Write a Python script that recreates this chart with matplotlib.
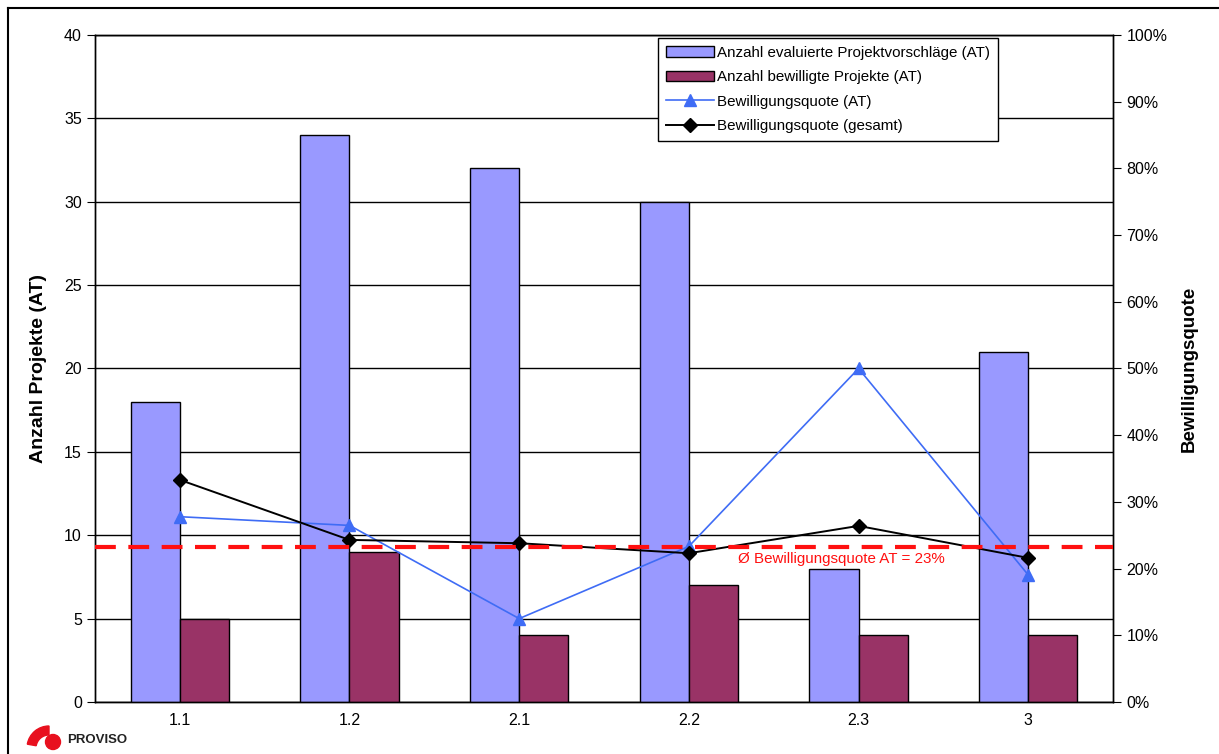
import numpy as np
import matplotlib.pyplot as plt
from matplotlib.patches import Ellipse, Wedge
from matplotlib.lines import Line2D

plt.rcParams['font.family'] = ['Liberation Sans', 'DejaVu Sans']

# data
categories = ["1.1", "1.2", "2.1", "2.2", "2.3", "3"]
evaluated = [18, 34, 32, 30, 8, 21]
approved = [5, 9, 4, 7, 4, 4]
quote_at = [a / e for a, e in zip(approved, evaluated)]
quote_total = [0.333, 0.243, 0.238, 0.223, 0.264, 0.216]
mean_quote_at = 0.2325

fig = plt.figure(figsize=(12.19, 7.54), dpi=100)
ax = fig.add_axes([0.0779, 0.069, 0.8352, 0.8846])
ax2 = ax.twinx()

x = np.arange(len(categories))
w = 0.29
ax.bar(x - w / 2, evaluated, w, color="#9999ff", edgecolor="black", lw=1,
       label="Anzahl evaluierte Projektvorschläge (AT)", zorder=3)
ax.bar(x + w / 2, approved, w, color="#993366", edgecolor="black", lw=1,
       label="Anzahl bewilligte Projekte (AT)", zorder=3)

ax.set_xlim(-0.5, len(categories) - 0.5)
ax.set_ylim(0, 40)
ax.set_yticks(range(0, 41, 5))
ax.grid(axis="y", color="black", lw=1, zorder=0)
ax.set_axisbelow(True)
ax.set_xticks(x)
ax.set_xticklabels(categories, fontsize=11.5)
ax.tick_params(axis="x", length=0, pad=8)
ax.tick_params(axis="y", labelsize=11.5, length=6, direction="out")
ax.set_ylabel("Anzahl Projekte (AT)", fontsize=14, fontweight="bold", labelpad=12)

ax2.plot(x, quote_at, color="#3f6cf5", lw=1.2, marker="^", ms=8,
         label="Bewilligungsquote (AT)", zorder=4)
ax2.plot(x, quote_total, color="black", lw=1.4, marker="D", ms=7,
         label="Bewilligungsquote (gesamt)", zorder=5)
ax2.axhline(mean_quote_at, color="#ff1010", lw=3, ls=(0, (5, 3)), zorder=6)
ax2.text(x[3] + 0.9, mean_quote_at - 0.008, "Ø Bewilligungsquote AT = 23%",
         color="#ff1010", fontsize=10.9, ha="center", va="top")
ax2.set_ylim(0, 1)
ax2.set_yticks(np.arange(0, 1.01, 0.1))
ax2.set_yticklabels([f"{int(round(v * 100))}%" for v in np.arange(0, 1.01, 0.1)])
ax2.tick_params(axis="y", labelsize=11.5, length=6, direction="out")
ax2.set_ylabel("Bewilligungsquote", fontsize=13.5, fontweight="bold", labelpad=10)

for a in (ax, ax2):
    for s in a.spines.values():
        s.set_linewidth(1)
        s.set_color("black")

h1, l1 = ax.get_legend_handles_labels()
h2, l2 = ax2.get_legend_handles_labels()
leg = ax.legend(h1 + h2, l1 + l2, loc="upper left",
                bbox_to_anchor=(658 / 1219, 1 - 38 / 754),
                bbox_transform=fig.transFigure, fontsize=10.9,
                frameon=True, fancybox=False, framealpha=1,
                edgecolor="black", borderpad=0.5, labelspacing=0.7,
                handlelength=3.2, handletextpad=0.2, borderaxespad=0)
leg.get_frame().set_linewidth(1)
leg.set_zorder(10)

# figure border (top and left visible)
fig.add_artist(Line2D([8 / 1219, 8 / 1219], [0, 1 - 8 / 754],
                      transform=fig.transFigure, color="black", lw=1.5))
fig.add_artist(Line2D([8 / 1219, 1], [1 - 8 / 754, 1 - 8 / 754],
                      transform=fig.transFigure, color="black", lw=1.5))

# logo
lax = fig.add_axes([24 / 1219, 2 / 754, 42 / 1219, 32 / 754])
lax.set_xlim(0, 42)
lax.set_ylim(0, 32)
lax.axis("off")
lax.add_patch(Ellipse((29, 10), 15, 15, color="#e8101e"))
lax.add_patch(Wedge((25, 4), 22, 90, 170, width=9, color="#e8101e"))
fig.text(67 / 1219, 1 - 740 / 754, "PROVISO", fontsize=9.5, fontweight="bold",
         va="center", ha="left", color="#222222")

fig.savefig("out.png", dpi=100)
